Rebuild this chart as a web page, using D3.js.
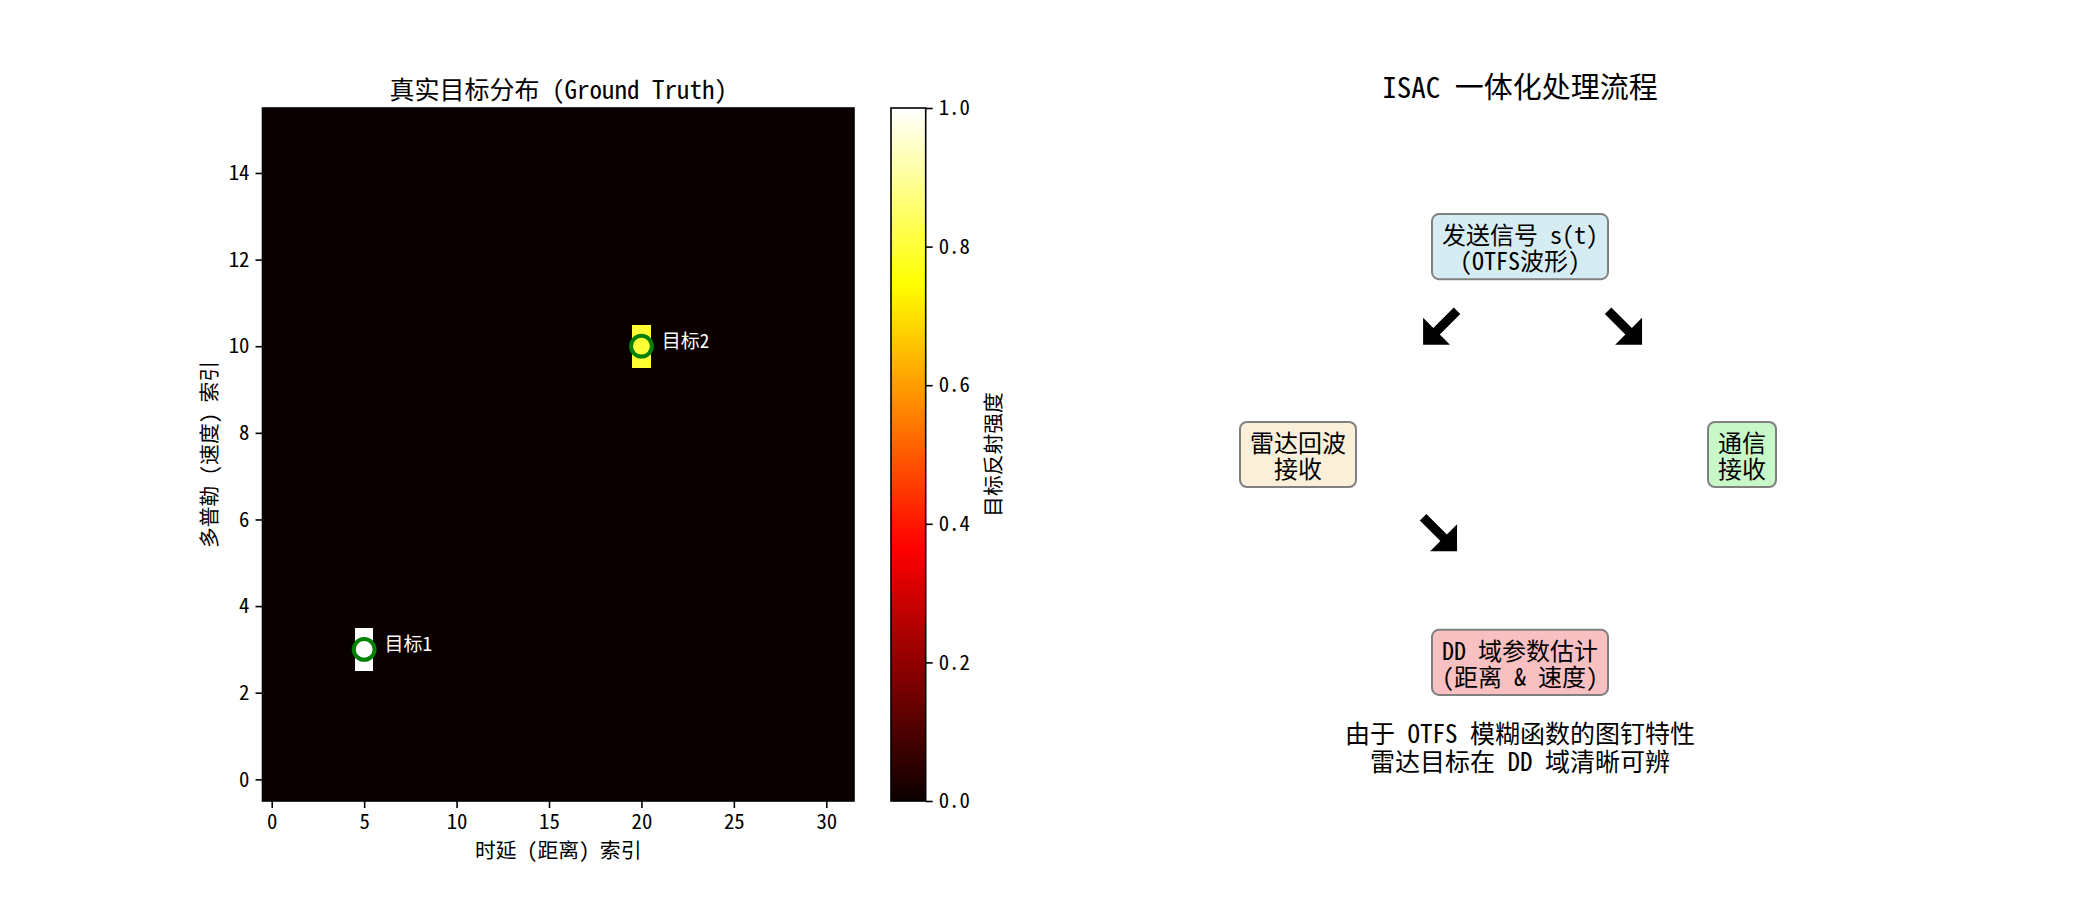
<!DOCTYPE html>
<html>
<head>
<meta charset="utf-8">
<script src="https://cdn.jsdelivr.net/npm/d3@7"></script>
<style>
body { margin: 0; background: #fff; }
svg text { font-family: "Noto Sans Mono CJK SC", "Noto Sans CJK SC", sans-serif; fill: #000; }
</style>
</head>
<body>
<script>
// size of the delay-doppler grid
var nDelay = 32;
var nDoppler = 16;

// ground truth targets
var targetDelay = [5, 20];
var targetDoppler = [3, 10];
var targetAmp = [1.0, 0.8];
var targetNames = ["目标1", "目标2"];

var xTicks = [0, 5, 10, 15, 20, 25, 30];
var yTicks = [0, 2, 4, 6, 8, 10, 12, 14];
var cbarTicks = [0, 0.2, 0.4, 0.6, 0.8, 1.0];

// flow chart (data coords of a 0..10 x 0..10 panel)
var nodeLines = [["发送信号 s(t)", "(OTFS波形)"], ["雷达回波", "接收"], ["通信", "接收"], ["DD 域参数估计", "(距离 & 速度)"]];
var nodeX = [5, 2, 8, 5];
var nodeY = [8, 5, 5, 2];

var arrowX = [3.92, 6.42, 3.92];
var arrowY = [6.83, 6.83, 3.85];
var arrowDir = ["sw", "se", "se"];

var noteLines = ["由于 OTFS 模糊函数的图钉特性", "雷达目标在 DD 域清晰可辨"];
var noteX = 5;
var noteY = 0.8;

var nodeFill = ["#d6ecf3", "#faefd9", "#c8f7c8", "#f8c0c0"];

// matplotlib "hot"
function hot(t) {
    var r = t < 0.365079 ? 0.0416 + (1 - 0.0416) * t / 0.365079 : 1;
    var g = t < 0.365079 ? 0 : (t < 0.746032 ? (t - 0.365079) / (0.746032 - 0.365079) : 1);
    var b = t < 0.746032 ? 0 : (t - 0.746032) / (1 - 0.746032);
    return d3.rgb(r * 255, g * 255, b * 255).toString();
}

var width = 2100, height = 900;
var svg = d3.select("body").append("svg")
    .attr("width", width)
    .attr("height", height);

// ---------------- left: heatmap ----------------
var hm = {left: 262.5, right: 854, top: 108, bottom: 801};
var x = d3.scaleLinear().domain([-0.5, nDelay - 0.5]).range([hm.left, hm.right]);
var y = d3.scaleLinear().domain([-0.5, nDoppler - 0.5]).range([hm.bottom, hm.top]);

var cells = [];
for (var j = 0; j < nDoppler; j++) {
    for (var i = 0; i < nDelay; i++) {
        var v = 0;
        for (var k = 0; k < targetDelay.length; k++) {
            if (targetDelay[k] == i && targetDoppler[k] == j) v = targetAmp[k];
        }
        cells.push({i: i, j: j, v: v});
    }
}

svg.append("g").attr("class", "cells")
    .selectAll("rect")
    .data(cells)
    .enter().append("rect")
    .attr("x", function (d) { return x(d.i - 0.5); })
    .attr("y", function (d) { return y(d.j + 0.5); })
    .attr("width", function (d) { return x(d.i + 0.5) - x(d.i - 0.5); })
    .attr("height", function (d) { return y(d.j - 0.5) - y(d.j + 0.5); })
    .attr("shape-rendering", "crispEdges")
    .style("fill", function (d) { return hot(d.v); });

var targets = targetDelay.map(function (d, k) {
    return {x: d, y: targetDoppler[k], name: targetNames[k]};
});

svg.append("g").selectAll("circle")
    .data(targets)
    .enter().append("circle")
    .attr("cx", function (d) { return x(d.x); })
    .attr("cy", function (d) { return y(d.y); })
    .attr("r", 10.4)
    .style("fill", "none")
    .style("stroke", "#008000")
    .style("stroke-width", 4);

svg.append("g").selectAll("text")
    .data(targets)
    .enter().append("text")
    .attr("x", function (d) { return x(d.x + 1.1); })
    .attr("y", function (d) { return y(d.y + 0.15); })
    .attr("dominant-baseline", "central")
    .style("font-size", "19px")
    .style("fill", "#fff")
    .text(function (d) { return d.name; });

var xAxis = svg.append("g")
    .attr("transform", "translate(0," + hm.bottom + ")")
    .call(d3.axisBottom(x).tickValues(xTicks).tickSize(7).tickPadding(6));
var yAxis = svg.append("g")
    .attr("transform", "translate(" + hm.left + ",0)")
    .call(d3.axisLeft(y).tickValues(yTicks).tickSize(7).tickPadding(6));

[xAxis, yAxis].forEach(function (a) {
    a.select(".domain").remove();
    a.selectAll(".tick line").style("stroke", "#000").style("stroke-width", 1.6);
    a.selectAll(".tick text").style("font-size", "20.8px").style("font-family", null);
});

svg.append("rect")
    .attr("x", hm.left).attr("y", hm.top)
    .attr("width", hm.right - hm.left).attr("height", hm.bottom - hm.top)
    .style("fill", "none").style("stroke", "#000").style("stroke-width", 1.6);

svg.append("text")
    .attr("x", (hm.left + hm.right) / 2).attr("y", 88)
    .attr("text-anchor", "middle").attr("dominant-baseline", "central")
    .style("font-size", "25px")
    .text("真实目标分布 (Ground Truth)");

svg.append("text")
    .attr("x", (hm.left + hm.right) / 2).attr("y", 849)
    .attr("text-anchor", "middle").attr("dominant-baseline", "central")
    .style("font-size", "20.8px")
    .text("时延 (距离) 索引");

svg.append("text")
    .attr("transform", "translate(208," + (hm.top + hm.bottom) / 2 + ") rotate(-90)")
    .attr("text-anchor", "middle").attr("dominant-baseline", "central")
    .style("font-size", "20.8px")
    .text("多普勒 (速度) 索引");

// colorbar
var cb = {left: 891, right: 925.7, top: hm.top, bottom: hm.bottom};
var cScale = d3.scaleLinear().domain([0, 1]).range([cb.bottom, cb.top]);

var grad = svg.append("defs").append("linearGradient")
    .attr("id", "hotgrad")
    .attr("x1", 0).attr("y1", 1).attr("x2", 0).attr("y2", 0);
[0, 0.365079, 0.746032, 1].forEach(function (t) {
    grad.append("stop").attr("offset", t).attr("stop-color", hot(t));
});

svg.append("rect")
    .attr("x", cb.left).attr("y", cb.top)
    .attr("width", cb.right - cb.left).attr("height", cb.bottom - cb.top)
    .style("fill", "url(#hotgrad)")
    .style("stroke", "#000").style("stroke-width", 1.6);

var cAxis = svg.append("g")
    .attr("transform", "translate(" + cb.right + ",0)")
    .call(d3.axisRight(cScale).tickValues(cbarTicks).tickSize(7).tickPadding(6).tickFormat(d3.format(".1f")));
cAxis.select(".domain").remove();
cAxis.selectAll(".tick line").style("stroke", "#000").style("stroke-width", 1.6);
cAxis.selectAll(".tick text").style("font-size", "20.8px").style("font-family", null);

svg.append("text")
    .attr("transform", "translate(992," + (cb.top + cb.bottom) / 2 + ") rotate(-90)")
    .attr("text-anchor", "middle").attr("dominant-baseline", "central")
    .style("font-size", "20.8px")
    .text("目标反射强度");

// ---------------- right: flow chart ----------------
var fx = d3.scaleLinear().domain([0, 10]).range([1150, 1890]);
var fy = d3.scaleLinear().domain([0, 10]).range([801, 108]);

svg.append("text")
    .attr("x", fx(5)).attr("y", 85)
    .attr("text-anchor", "middle").attr("dominant-baseline", "central")
    .style("font-size", "29px")
    .text("ISAC 一体化处理流程");

// multi-line text as one <text> with tspans
function multiline(g, cx, cy, lines, size, lh) {
    var t = g.append("text")
        .attr("text-anchor", "middle")
        .style("font-size", size + "px");
    var maxW = 0;
    lines.forEach(function (s, n) {
        var ts = t.append("tspan")
            .attr("x", cx)
            .attr("y", cy + (n - (lines.length - 1) / 2) * lh)
            .attr("dominant-baseline", "central")
            .text(s);
        maxW = Math.max(maxW, ts.node().getComputedTextLength());
    });
    return maxW;
}

var lineH = 26.5;
nodeLines.forEach(function (lines, k) {
    var g = svg.append("g").attr("class", "node");
    var cx = fx(nodeX[k]), cy = fy(nodeY[k]);
    var rect = g.append("rect");
    var maxW = multiline(g, cx, cy, lines, 24, lineH);
    var bw = maxW + 2 * 10, bh = (lines.length - 1) * lineH + 2 * 19.3;
    rect.attr("x", cx - bw / 2).attr("y", cy - bh / 2)
        .attr("width", bw).attr("height", bh)
        .attr("rx", 7).attr("ry", 7)
        .style("fill", nodeFill[k])
        .style("stroke", "#808080").style("stroke-width", 2);
});

// thick arrow glyphs
function arrowPath(cx, cy, dir) {
    var s = Math.SQRT1_2;
    var d = dir == "sw" ? [-s, s] : [s, s];
    var n = [-d[1], d[0]];
    var L = 48, hl = 19, hw = 19, sw = 4.6;
    var tip = [cx + d[0] * L / 2, cy + d[1] * L / 2];
    var tail = [cx - d[0] * L / 2, cy - d[1] * L / 2];
    var base = [tip[0] - d[0] * hl, tip[1] - d[1] * hl];
    var pts = [
        [tail[0] + n[0] * sw, tail[1] + n[1] * sw],
        [base[0] + n[0] * sw, base[1] + n[1] * sw],
        [base[0] + n[0] * hw, base[1] + n[1] * hw],
        tip,
        [base[0] - n[0] * hw, base[1] - n[1] * hw],
        [base[0] - n[0] * sw, base[1] - n[1] * sw],
        [tail[0] - n[0] * sw, tail[1] - n[1] * sw]
    ];
    return "M" + pts.map(function (p) { return p[0] + "," + p[1]; }).join("L") + "Z";
}

svg.append("g").selectAll("path")
    .data(arrowX.map(function (d, k) { return {x: d, y: arrowY[k], dir: arrowDir[k]}; }))
    .enter().append("path")
    .attr("d", function (d) { return arrowPath(fx(d.x), fy(d.y), d.dir); })
    .style("fill", "#000");

multiline(svg.append("g"), fx(noteX), fy(noteY), noteLines, 25, 28);
</script>
</body>
</html>
